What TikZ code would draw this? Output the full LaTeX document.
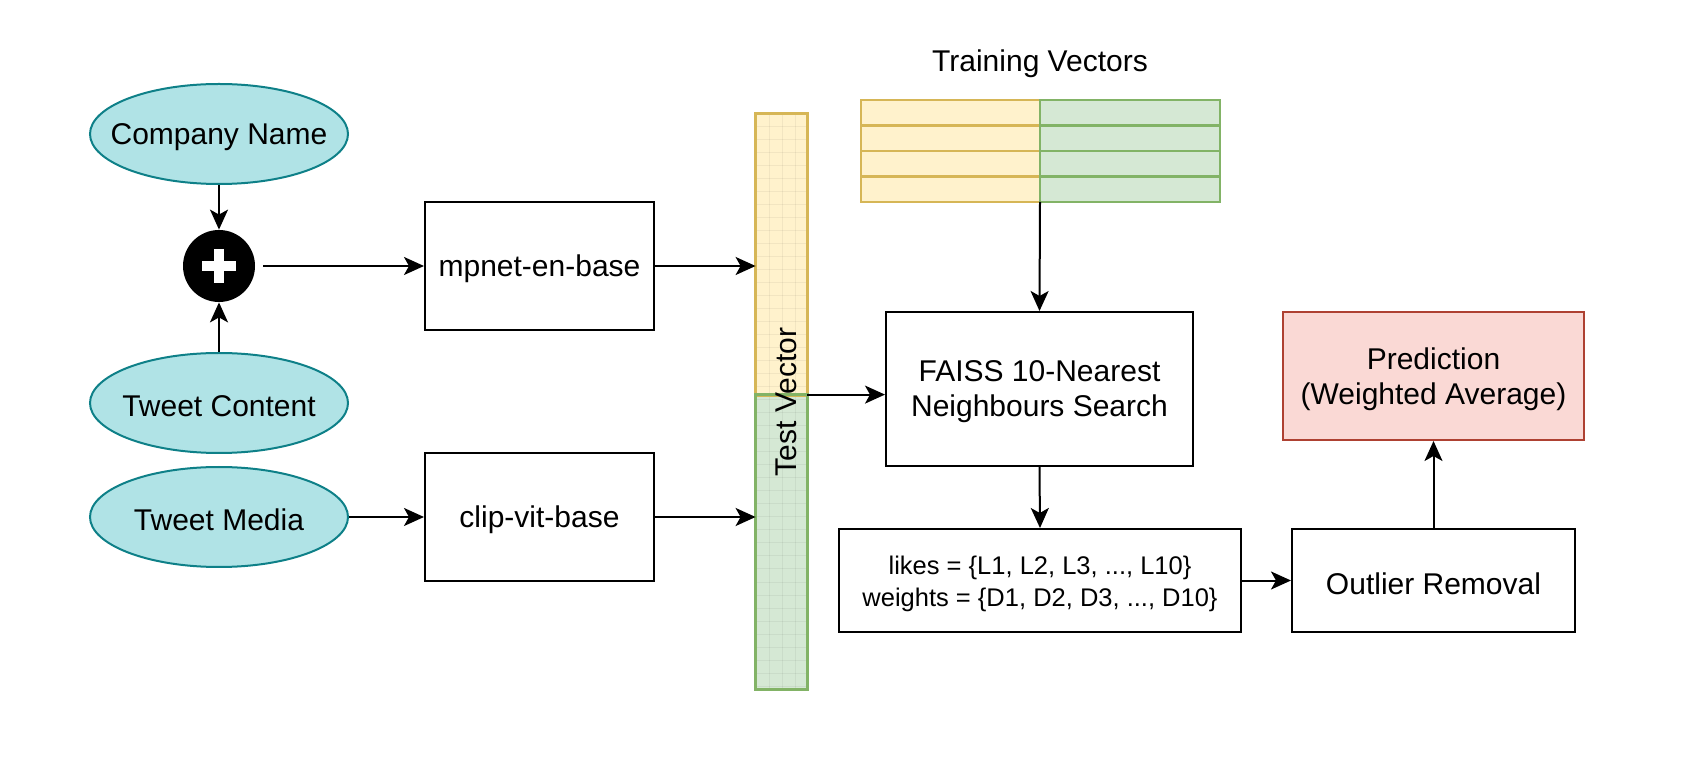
\documentclass[tikz,border=0pt]{standalone}
\usepackage{fontspec}
\setmainfont{Liberation Sans}
\usetikzlibrary{arrows.meta,shapes.geometric}
\definecolor{tealf}{HTML}{B0E3E6}
\definecolor{tealb}{HTML}{0E8088}
\definecolor{yelf}{HTML}{FFF2CC}
\definecolor{yelb}{HTML}{D6B656}
\definecolor{grnf}{HTML}{D5E8D4}
\definecolor{grnb}{HTML}{82B366}
\definecolor{redf}{HTML}{FAD9D5}
\definecolor{redb}{HTML}{AE4132}
\begin{document}
\begin{tikzpicture}[x=0.5pt,y=-0.5pt,
  txt/.style={font=\fontsize{15}{17.5}\selectfont, align=center},
  lab/.style={txt, yshift=-1.5pt},
  ell/.style={ellipse, draw=tealb, fill=tealf, line width=1pt, minimum width=129pt, minimum height=50pt, inner sep=0pt},
  boxn/.style={rectangle, draw=black, line width=1pt, inner sep=0pt},
  arr/.style={draw=black, line width=1pt, -{Stealth[length=10pt,width=9pt,inset=2.5pt]}},
  gridl/.style={draw=black, opacity=0.05, line width=0.5pt},
  cellY/.style={draw=yelb, fill=yelf, line width=1.25pt},
  cellG/.style={draw=grnb, fill=grnf, line width=1.25pt}
]
\useasboundingbox (0,0) rectangle (1682,764);

% ellipses
\node[ell, label={[lab]center:Company Name}] (company) at (219,134) {};
\node[ell, label={[lab]center:Tweet Content}] (content) at (219,403) {};
\node[ell, label={[lab]center:Tweet Media}] (media) at (219,517) {};

% plus
\node[circle, fill=black, minimum size=36pt, inner sep=0pt] (plus) at (219,266) {};
\draw[white, line width=5pt] (plus.center) ++(-17,0) -- ++(34,0);
\draw[white, line width=5pt] (plus.center) ++(0,-17) -- ++(0,34);

% encoders
\node[boxn, minimum width=114.5pt, minimum height=64pt, label={[lab]center:mpnet-en-base}] (mpnet) at (539.5,266) {};
\node[boxn, minimum width=114.5pt, minimum height=64pt, label={[lab]center:clip-vit-base}] (clip) at (539.5,517) {};

% test vector
\node[rectangle, fill=yelf, minimum width=25.5pt, minimum height=140.5pt, inner sep=0pt] (tvy) at (781.5,254.5) {};
\node[rectangle, fill=grnf, minimum width=25.5pt, minimum height=147pt, inner sep=0pt] (tvg) at (781.5,542) {};
\foreach \x in {769,782,795} \draw[gridl] (\x,114) -- (\x,689);
\foreach \i in {1,...,44} \draw[gridl] (756,114+13*\i) -- (807,114+13*\i);
\draw[draw=yelb, line width=1.25pt] (tvy.south west) rectangle (tvy.north east);
\draw[draw=grnb, line width=1.25pt] (tvg.south west) rectangle (tvg.north east);
\node[txt, rotate=90] (tvlabel) at (786,402) {Test Vector};

% training vectors
\node[txt] (trlabel) at (1040,64) {Training Vectors};
\foreach \r in {0,1,2,3} {
  \draw[cellY] (861,100+25.5*\r) rectangle (1040,125.5+25.5*\r);
}
\foreach \r in {0,1,2,3} {
  \draw[cellG] (1040,100+25.5*\r) rectangle (1220,125.5+25.5*\r);
}
\coordinate (trbot) at (1040,202);

% search and results
\node[boxn, minimum width=153.5pt, minimum height=77pt, label={[lab]center:{FAISS 10-Nearest\\Neighbours Search}}] (faiss) at (1039.5,389) {};
\node[boxn, minimum width=201pt, minimum height=51.5pt, label={[lab, font=\fontsize{12.75}{16}\selectfont]center:{likes = \{L1, L2, L3, ..., L10\}\\weights = \{D1, D2, D3, ..., D10\}}}] (likes) at (1040,580.5) {};
\node[boxn, minimum width=141.5pt, minimum height=51.5pt, label={[lab]center:Outlier Removal}] (outlier) at (1433.5,580.5) {};
\node[boxn, draw=redb, fill=redf, minimum width=150.5pt, minimum height=64pt, label={[lab]center:{Prediction\\(Weighted Average)}}] (pred) at (1433.5,376) {};

% connectors
\draw[arr] (company.south) -- (plus.north);
\draw[arr] (content.north) -- (plus.south);
\draw[arr] ([xshift=4pt]plus.east) -- (mpnet.west);
\draw[arr] (media.east) -- (clip.west);
\draw[arr] (mpnet.east) -- (mpnet.east -| tvy.west);
\draw[arr] (clip.east) -- (clip.east -| tvg.west);
\draw[arr] (tvg.north east) -- (tvg.north east -| faiss.west);
\draw[arr] (trbot) -- (faiss.north);
\draw[arr] (faiss.south) -- (likes.north);
\draw[arr] (likes.east) -- (outlier.west);
\draw[arr] (outlier.north) -- (pred.south);
\end{tikzpicture}
\end{document}
